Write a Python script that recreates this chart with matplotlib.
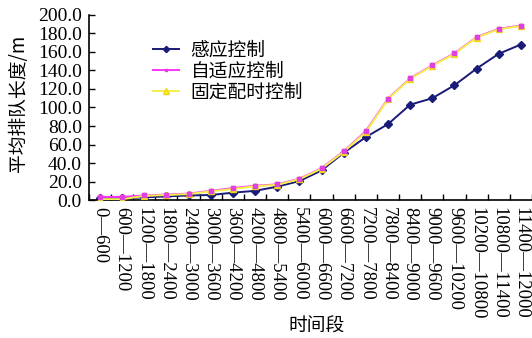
import numpy as np
import matplotlib
matplotlib.use('Agg')
import matplotlib.pyplot as plt

plt.rcParams['font.family'] = ['Liberation Serif', 'Noto Sans CJK SC']

# time slots (s)
periods = ['0—600', '600—1200', '1200—1800', '1800—2400', '2400—3000',
           '3000—3600', '3600—4200', '4200—4800', '4800—5400', '5400—6000',
           '6000—6600', '6600—7200', '7200—7800', '7800—8400', '8400—9000',
           '9000—9600', '9600—10200', '10200—10800', '10800—11400', '11400—12000']

# average queue length (m)
sensing = [2.0, 2.0, 3.0, 4.0, 5.0, 5.5, 8.0, 10.0, 14.5, 20.5,
           32.0, 51.0, 68.0, 82.0, 103.0, 110.0, 124.0, 142.0, 158.0, 168.0]
adaptive = [3.5, 3.5, 5.0, 6.0, 7.0, 10.0, 13.0, 15.5, 17.0, 23.0,
            34.5, 52.5, 74.5, 109.5, 131.5, 145.5, 158.5, 176.0, 185.0, 188.5]
fixed = [1.0, 1.0, 4.5, 5.5, 6.5, 9.5, 12.0, 15.0, 16.5, 22.5,
         34.0, 52.0, 73.5, 109.0, 131.0, 145.0, 158.0, 175.5, 184.5, 188.0]

series_names = ['感应控制', '自适应控制', '固定配时控制']
y_ticks = np.arange(0, 201, 20)

x = np.arange(len(periods))

fig = plt.figure(figsize=(5.32, 3.38), dpi=100)
ax = fig.add_axes([0.167, 0.408, 0.833, 0.548])

ax.plot(x, sensing, color='#1a1a78', lw=1.4, marker='D', ms=4,
        mfc='#1a1a78', mec='#1a1a78', label=series_names[0], zorder=2)
ax.plot(x, adaptive, color='#ff33ff', lw=1.4, marker='s', ms=2.5,
        mfc='#e040e0', mec='#e040e0', label=series_names[1], zorder=3)
ax.plot(x, fixed, color='#f6f04a', lw=1.4, marker='^', ms=5,
        mfc='#f8f020', mec='#ecd818', label=series_names[2], zorder=4)
# magenta markers stay visible on top of the yellow line
ax.plot(x, adaptive, ls='none', marker='s', ms=2.5,
        mfc='#e040e0', mec='#e040e0', zorder=5)

ax.set_xlim(-0.5, len(periods) - 0.5)
ax.set_ylim(0, 200)

ax.set_yticks(y_ticks)
ax.set_yticklabels(['%.1f' % v for v in y_ticks], fontsize=14)
ax.tick_params(axis='y', direction='in', length=4, width=1, pad=5)

ax.set_xticks(x)
ax.set_xticklabels(periods, rotation=-90, fontsize=13.5, va='top', ha='center')
ax.set_xticks(np.arange(-0.5, len(periods), 1), minor=True)
ax.tick_params(axis='x', which='major', length=0, pad=5)
ax.tick_params(axis='x', which='minor', direction='in', length=4, width=1)

for s in ['top', 'right']:
    ax.spines[s].set_visible(False)
for s in ['left', 'bottom']:
    ax.spines[s].set_linewidth(1.2)

leg = fig.legend(loc='upper left', bbox_to_anchor=(0.270, 0.91), frameon=False,
                 prop={'family': ['Noto Sans CJK SC'], 'size': 13.5},
                 handlelength=1.4, handletextpad=0.6, labelspacing=0.0, borderpad=0,
                 markerscale=0.8)

fig.text(0.034, 0.695, '平均排队长度/m', rotation=90, ha='center', va='center',
         fontsize=13.5, family=['Noto Sans CJK SC'])
fig.text(0.595, 0.035, '时间段', ha='center', va='center',
         fontsize=13.5, family=['Noto Sans CJK SC'])

fig.savefig('out.png', dpi=100)
